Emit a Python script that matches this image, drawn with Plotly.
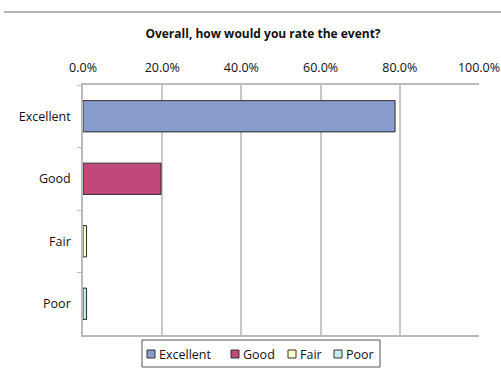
import plotly.graph_objects as go

categories = ["Excellent", "Good", "Fair", "Poor"]
values = [0.788, 0.197, 0.009, 0.009]
colors = ["#8A9BCD", "#C0497A", "#FFFFCC", "#C6EBEE"]
x_ticks = [0, 0.2, 0.4, 0.6, 0.8, 1.0]
title = "Overall, how would you rate the event?"

# legend layout (pixel positions of each legend symbol)
legend_sym_x = [147, 231, 288, 334]

W, H = 501, 372
ML, MR, MT, MB = 83, 22, 85, 37
PW, PH = W - ML - MR, H - MT - MB


def px(x):
    return (x - ML) / PW


def py(y):
    return 1 - (y - MT) / PH


fig = go.Figure()
for cat, val, col in zip(categories, values, colors):
    fig.add_trace(go.Bar(
        y=[cat], x=[val], name=cat, orientation="h",
        marker=dict(color=col, line=dict(color="#2A2A2A", width=1)),
        width=0.5, showlegend=False,
    ))

shapes = [
    dict(type="line", xref="paper", yref="paper",
         x0=px(4), x1=px(501), y0=py(12), y1=py(12),
         line=dict(color="#999999", width=1.5)),
    dict(type="rect", xref="paper", yref="paper",
         x0=px(142), x1=px(380), y0=py(340), y1=py(367),
         line=dict(color="#555555", width=1), fillcolor="white"),
]
annotations = []
for cat, col, sx in zip(categories, colors, legend_sym_x):
    shapes.append(dict(type="rect", xref="paper", yref="paper",
                       x0=px(sx), x1=px(sx + 8), y0=py(350), y1=py(358),
                       line=dict(color="#333333", width=1), fillcolor=col))
    annotations.append(dict(text=cat, xref="paper", yref="paper",
                            x=px(sx + 10), y=py(354), xanchor="left", yanchor="middle",
                            showarrow=False, font=dict(size=12.5, color="#111111")))

fig.update_layout(
    width=W, height=H,
    margin=dict(l=ML, r=MR, t=MT, b=MB, autoexpand=False),
    paper_bgcolor="white", plot_bgcolor="white",
    barmode="overlay",
    font=dict(family="Open Sans", size=12.5, color="#111111"),
    title=dict(text="<b>" + title + "</b>", x=(263 - 0) / W, xanchor="center",
               y=1 - 34 / H, yanchor="middle",
               font=dict(size=12, family="Open Sans", color="#111111")),
    showlegend=False,
    xaxis=dict(side="top", range=[0, 1], tickvals=x_ticks, tickformat=".1%",
               showgrid=True, gridcolor="#C8C8C8", gridwidth=1.5,
               showline=True, linecolor="#BBBBBB", linewidth=1.5, mirror=True,
               zeroline=False, ticks="", ticklabelstandoff=6,
               tickfont=dict(size=12.5)),
    yaxis=dict(categoryorder="array", categoryarray=categories, autorange="reversed",
               showline=True, linecolor="#BBBBBB", linewidth=1.5,
               ticks="outside", tickson="boundaries", ticklen=4, tickcolor="#BBBBBB",
               ticklabelstandoff=8,
               showgrid=False, tickfont=dict(size=12.5)),
    shapes=shapes,
    annotations=annotations,
)

fig.write_html("out.html")
